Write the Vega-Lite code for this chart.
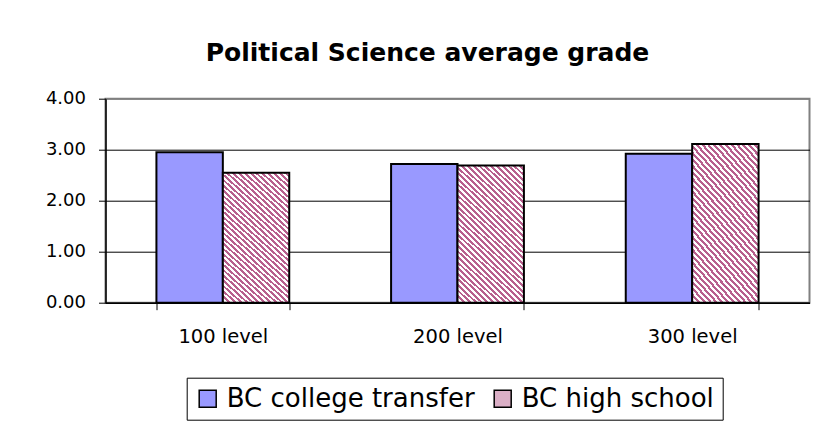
{
  "$schema": "https://vega.github.io/schema/vega-lite/v6.json",
  "width": 704,
  "height": 204,
  "autosize": "none",
  "padding": {"left": 105.5, "top": 98.7, "right": 21.5, "bottom": 134.3},
  "background": "#ffffff",
  "config": {
    "font": "DejaVu Sans",
    "view": {"stroke": "#808080", "strokeWidth": 2}
  },
  "title": {
    "text": "Political Science average grade",
    "font": "DejaVu Sans",
    "fontSize": 25,
    "fontWeight": "bold",
    "color": "#000000",
    "anchor": "middle",
    "dx": -30,
    "offset": 24
  },
  "data": {
    "values": [
      {"level": "100 level", "group": "BC college transfer", "grade": 2.95},
      {"level": "100 level", "group": "BC high school", "grade": 2.55},
      {"level": "200 level", "group": "BC college transfer", "grade": 2.72},
      {"level": "200 level", "group": "BC high school", "grade": 2.69},
      {"level": "300 level", "group": "BC college transfer", "grade": 2.92},
      {"level": "300 level", "group": "BC high school", "grade": 3.11}
    ]
  },
  "mark": {"type": "bar", "stroke": "#000000", "strokeWidth": 2},
  "encoding": {
    "x": {
      "field": "level",
      "type": "nominal",
      "sort": ["100 level", "200 level", "300 level"],
      "scale": {"paddingInner": 0.434, "paddingOuter": 0.217},
      "axis": {
        "title": null,
        "labelAngle": 0,
        "labelFont": "DejaVu Sans",
        "labelFontSize": 19.5,
        "labelColor": "#000000",
        "tickBand": "extent",
        "tickSize": 7,
        "tickColor": "#000000",
        "domainColor": "#000000",
        "domainWidth": 1.5,
        "labelPadding": 18,
        "grid": false
      }
    },
    "xOffset": {
      "field": "group",
      "type": "nominal",
      "sort": ["BC college transfer", "BC high school"],
      "scale": {"paddingInner": 0, "paddingOuter": 0}
    },
    "y": {
      "field": "grade",
      "type": "quantitative",
      "scale": {"domain": [0, 4], "nice": false},
      "axis": {
        "title": null,
        "values": [0, 1, 2, 3, 4],
        "format": ".2f",
        "labelFont": "DejaVu Sans",
        "labelFontSize": 18,
        "labelColor": "#000000",
        "tickSize": 7,
        "tickColor": "#000000",
        "domainColor": "#000000",
        "domainWidth": 1.5,
        "labelPadding": 13,
        "grid": true,
        "gridColor": {"condition": {"test": "datum.value === 4", "value": "#808080"}, "value": "#000000"},
        "gridWidth": 1
      }
    },
    "color": {
      "condition": {
        "test": "datum.group === 'BC high school'",
        "value": {
          "gradient": "linear",
          "x1": 0, "y1": 1, "x2": 0.56, "y2": -0.205,
          "stops": [
            {"offset": 0, "color": "#b8608e"}, {"offset": 0.013889, "color": "#b8608e"}, {"offset": 0.013889, "color": "#ffffff"}, {"offset": 0.027778, "color": "#ffffff"},
            {"offset": 0.027778, "color": "#b8608e"}, {"offset": 0.041667, "color": "#b8608e"}, {"offset": 0.041667, "color": "#ffffff"}, {"offset": 0.055556, "color": "#ffffff"},
            {"offset": 0.055556, "color": "#b8608e"}, {"offset": 0.069444, "color": "#b8608e"}, {"offset": 0.069444, "color": "#ffffff"}, {"offset": 0.083333, "color": "#ffffff"},
            {"offset": 0.083333, "color": "#b8608e"}, {"offset": 0.097222, "color": "#b8608e"}, {"offset": 0.097222, "color": "#ffffff"}, {"offset": 0.111111, "color": "#ffffff"},
            {"offset": 0.111111, "color": "#b8608e"}, {"offset": 0.125, "color": "#b8608e"}, {"offset": 0.125, "color": "#ffffff"}, {"offset": 0.138889, "color": "#ffffff"},
            {"offset": 0.138889, "color": "#b8608e"}, {"offset": 0.152778, "color": "#b8608e"}, {"offset": 0.152778, "color": "#ffffff"}, {"offset": 0.166667, "color": "#ffffff"},
            {"offset": 0.166667, "color": "#b8608e"}, {"offset": 0.180556, "color": "#b8608e"}, {"offset": 0.180556, "color": "#ffffff"}, {"offset": 0.194444, "color": "#ffffff"},
            {"offset": 0.194444, "color": "#b8608e"}, {"offset": 0.208333, "color": "#b8608e"}, {"offset": 0.208333, "color": "#ffffff"}, {"offset": 0.222222, "color": "#ffffff"},
            {"offset": 0.222222, "color": "#b8608e"}, {"offset": 0.236111, "color": "#b8608e"}, {"offset": 0.236111, "color": "#ffffff"}, {"offset": 0.25, "color": "#ffffff"},
            {"offset": 0.25, "color": "#b8608e"}, {"offset": 0.263889, "color": "#b8608e"}, {"offset": 0.263889, "color": "#ffffff"}, {"offset": 0.277778, "color": "#ffffff"},
            {"offset": 0.277778, "color": "#b8608e"}, {"offset": 0.291667, "color": "#b8608e"}, {"offset": 0.291667, "color": "#ffffff"}, {"offset": 0.305556, "color": "#ffffff"},
            {"offset": 0.305556, "color": "#b8608e"}, {"offset": 0.319444, "color": "#b8608e"}, {"offset": 0.319444, "color": "#ffffff"}, {"offset": 0.333333, "color": "#ffffff"},
            {"offset": 0.333333, "color": "#b8608e"}, {"offset": 0.347222, "color": "#b8608e"}, {"offset": 0.347222, "color": "#ffffff"}, {"offset": 0.361111, "color": "#ffffff"},
            {"offset": 0.361111, "color": "#b8608e"}, {"offset": 0.375, "color": "#b8608e"}, {"offset": 0.375, "color": "#ffffff"}, {"offset": 0.388889, "color": "#ffffff"},
            {"offset": 0.388889, "color": "#b8608e"}, {"offset": 0.402778, "color": "#b8608e"}, {"offset": 0.402778, "color": "#ffffff"}, {"offset": 0.416667, "color": "#ffffff"},
            {"offset": 0.416667, "color": "#b8608e"}, {"offset": 0.430556, "color": "#b8608e"}, {"offset": 0.430556, "color": "#ffffff"}, {"offset": 0.444444, "color": "#ffffff"},
            {"offset": 0.444444, "color": "#b8608e"}, {"offset": 0.458333, "color": "#b8608e"}, {"offset": 0.458333, "color": "#ffffff"}, {"offset": 0.472222, "color": "#ffffff"},
            {"offset": 0.472222, "color": "#b8608e"}, {"offset": 0.486111, "color": "#b8608e"}, {"offset": 0.486111, "color": "#ffffff"}, {"offset": 0.5, "color": "#ffffff"},
            {"offset": 0.5, "color": "#b8608e"}, {"offset": 0.513889, "color": "#b8608e"}, {"offset": 0.513889, "color": "#ffffff"}, {"offset": 0.527778, "color": "#ffffff"},
            {"offset": 0.527778, "color": "#b8608e"}, {"offset": 0.541667, "color": "#b8608e"}, {"offset": 0.541667, "color": "#ffffff"}, {"offset": 0.555556, "color": "#ffffff"},
            {"offset": 0.555556, "color": "#b8608e"}, {"offset": 0.569444, "color": "#b8608e"}, {"offset": 0.569444, "color": "#ffffff"}, {"offset": 0.583333, "color": "#ffffff"},
            {"offset": 0.583333, "color": "#b8608e"}, {"offset": 0.597222, "color": "#b8608e"}, {"offset": 0.597222, "color": "#ffffff"}, {"offset": 0.611111, "color": "#ffffff"},
            {"offset": 0.611111, "color": "#b8608e"}, {"offset": 0.625, "color": "#b8608e"}, {"offset": 0.625, "color": "#ffffff"}, {"offset": 0.638889, "color": "#ffffff"},
            {"offset": 0.638889, "color": "#b8608e"}, {"offset": 0.652778, "color": "#b8608e"}, {"offset": 0.652778, "color": "#ffffff"}, {"offset": 0.666667, "color": "#ffffff"},
            {"offset": 0.666667, "color": "#b8608e"}, {"offset": 0.680556, "color": "#b8608e"}, {"offset": 0.680556, "color": "#ffffff"}, {"offset": 0.694444, "color": "#ffffff"},
            {"offset": 0.694444, "color": "#b8608e"}, {"offset": 0.708333, "color": "#b8608e"}, {"offset": 0.708333, "color": "#ffffff"}, {"offset": 0.722222, "color": "#ffffff"},
            {"offset": 0.722222, "color": "#b8608e"}, {"offset": 0.736111, "color": "#b8608e"}, {"offset": 0.736111, "color": "#ffffff"}, {"offset": 0.75, "color": "#ffffff"},
            {"offset": 0.75, "color": "#b8608e"}, {"offset": 0.763889, "color": "#b8608e"}, {"offset": 0.763889, "color": "#ffffff"}, {"offset": 0.777778, "color": "#ffffff"},
            {"offset": 0.777778, "color": "#b8608e"}, {"offset": 0.791667, "color": "#b8608e"}, {"offset": 0.791667, "color": "#ffffff"}, {"offset": 0.805556, "color": "#ffffff"},
            {"offset": 0.805556, "color": "#b8608e"}, {"offset": 0.819444, "color": "#b8608e"}, {"offset": 0.819444, "color": "#ffffff"}, {"offset": 0.833333, "color": "#ffffff"},
            {"offset": 0.833333, "color": "#b8608e"}, {"offset": 0.847222, "color": "#b8608e"}, {"offset": 0.847222, "color": "#ffffff"}, {"offset": 0.861111, "color": "#ffffff"},
            {"offset": 0.861111, "color": "#b8608e"}, {"offset": 0.875, "color": "#b8608e"}, {"offset": 0.875, "color": "#ffffff"}, {"offset": 0.888889, "color": "#ffffff"},
            {"offset": 0.888889, "color": "#b8608e"}, {"offset": 0.902778, "color": "#b8608e"}, {"offset": 0.902778, "color": "#ffffff"}, {"offset": 0.916667, "color": "#ffffff"},
            {"offset": 0.916667, "color": "#b8608e"}, {"offset": 0.930556, "color": "#b8608e"}, {"offset": 0.930556, "color": "#ffffff"}, {"offset": 0.944444, "color": "#ffffff"},
            {"offset": 0.944444, "color": "#b8608e"}, {"offset": 0.958333, "color": "#b8608e"}, {"offset": 0.958333, "color": "#ffffff"}, {"offset": 0.972222, "color": "#ffffff"},
            {"offset": 0.972222, "color": "#b8608e"}, {"offset": 0.986111, "color": "#b8608e"}, {"offset": 0.986111, "color": "#ffffff"}, {"offset": 1, "color": "#ffffff"}
          ]
        }
      },
      "field": "group",
      "type": "nominal",
      "scale": {
        "domain": ["BC college transfer", "BC high school"],
        "range": ["#9999FF", "#DBAFC6"]
      },
      "legend": {
        "title": null,
        "orient": "none",
        "legendX": 81.2,
        "legendY": 279,
        "direction": "horizontal",
        "strokeColor": "#000000",
        "fillColor": "#ffffff",
        "padding": 8,
        "symbolType": "square",
        "symbolSize": 289,
        "symbolStrokeColor": "#000000",
        "symbolStrokeWidth": 1.5,
        "symbolOpacity": 1,
        "labelFont": "DejaVu Sans",
        "labelFontSize": 26,
        "labelColor": "#000000",
        "labelOffset": 6,
        "columnPadding": 15,
        "labelLimit": 400
      }
    }
  }
}
